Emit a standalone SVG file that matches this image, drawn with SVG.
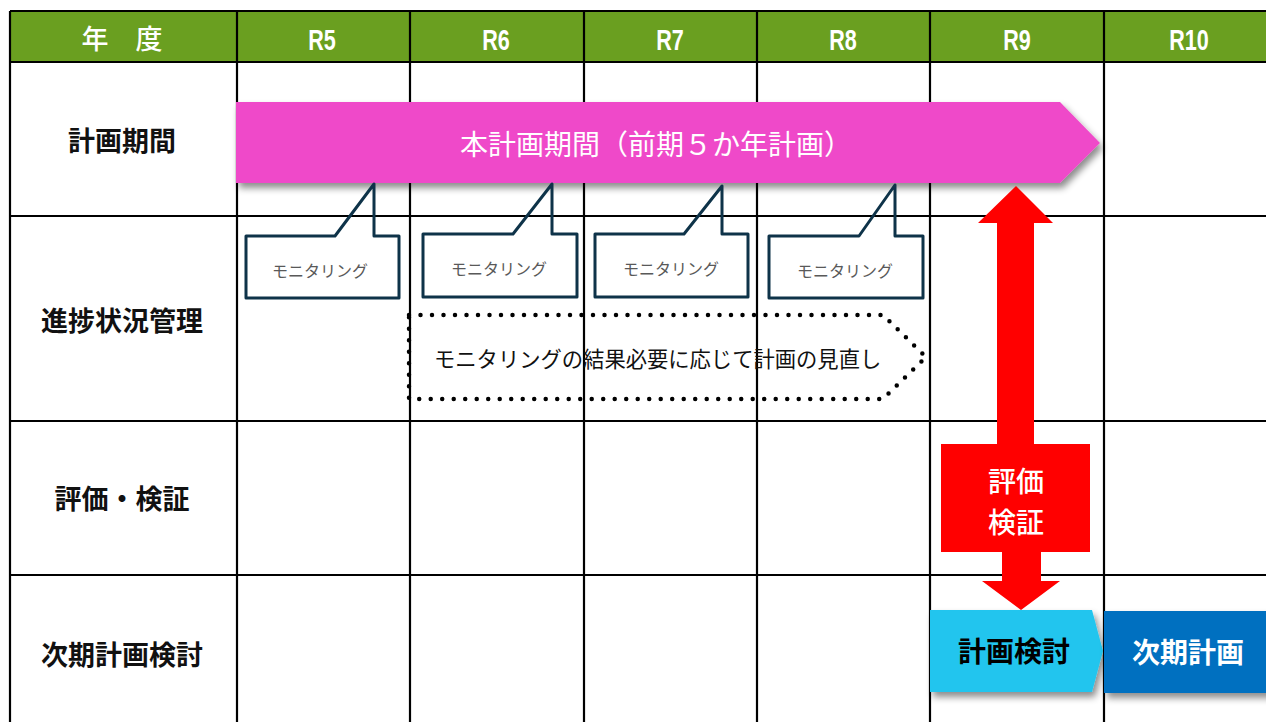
<svg xmlns="http://www.w3.org/2000/svg" width="1266" height="722" viewBox="0 0 1266 722">
<defs>
<filter id="sh" x="-5%" y="-20%" width="115%" height="150%">
<feDropShadow dx="3" dy="5" stdDeviation="3.5" flood-color="#000" flood-opacity="0.45"/>
</filter>
<style>
.grid{stroke:#000;stroke-width:2.2;fill:none}
.hdr{font-family:"Liberation Sans",Arial,sans-serif;font-weight:bold;font-size:30px;fill:#fff;text-anchor:middle}
.hdrj{font-family:"Noto Sans CJK JP",sans-serif;font-weight:500;font-size:27px;fill:#fff;text-anchor:middle;dominant-baseline:central}
.row{font-family:"Noto Sans CJK JP",sans-serif;font-weight:bold;font-size:27px;fill:#111;text-anchor:middle;dominant-baseline:central}
.call{fill:none;stroke:#0e3349;stroke-width:3;stroke-linejoin:round}
.callt{font-family:"Noto Sans CJK JP",sans-serif;font-size:16px;fill:#595959;text-anchor:middle;dominant-baseline:central}
.big{font-family:"Noto Sans CJK JP",sans-serif;font-size:28px;dominant-baseline:central}
</style>
</defs>
<rect width="1266" height="722" fill="#fff"/>
<g id="table">
<rect x="10" y="11" width="1270" height="51" fill="#6a9f20"/>
<path class="grid" d="M10,11 H1270 M10,62 H1270 M10,216 H1270 M10,421 H1270 M10,575 H1270 M10,11 V730 M237,11 V730 M410,11 V730 M584,11 V730 M757,11 V730 M930,11 V730 M1104,11 V730"/>
<text class="hdrj" x="122" y="37">年　度</text>
<g class="hdr">
<text transform="translate(322,50) scale(0.72,1)">R5</text>
<text transform="translate(496,50) scale(0.72,1)">R6</text>
<text transform="translate(670,50) scale(0.72,1)">R7</text>
<text transform="translate(843,50) scale(0.72,1)">R8</text>
<text transform="translate(1017,50) scale(0.72,1)">R9</text>
<text transform="translate(1189,50) scale(0.72,1)">R10</text>
</g>
<text class="row" x="122" y="139">計画期間</text>
<text class="row" x="122" y="319">進捗状況管理</text>
<text class="row" x="122" y="497">評価・検証</text>
<text class="row" x="122" y="653">次期計画検討</text>
</g>
<g id="plan-period">
<path d="M236,102 L1060,102 L1100,143 L1060,183 L236,183 Z" fill="#ef4ac9" filter="url(#sh)"/>
<text class="big" x="460" y="143" fill="#fff">本計画期間（前期５か年計画）</text>
</g>
<g id="monitor1">
<path class="call" d="M246,236 L335,236 L374,184 L374,236 L399,236 L399,298 L246,298 Z"/>
<text class="callt" x="320" y="270">モニタリング</text>
</g>
<g id="monitor2">
<path class="call" d="M423,234 L513,234 L552,184 L552,234 L577,234 L577,297 L423,297 Z"/>
<text class="callt" x="499" y="268">モニタリング</text>
</g>
<g id="monitor3">
<path class="call" d="M595,234 L684,234 L722,186 L722,234 L748,234 L748,297 L595,297 Z"/>
<text class="callt" x="671" y="268">モニタリング</text>
</g>
<g id="monitor4">
<path class="call" d="M769,236 L859,236 L895,185 L895,236 L923,236 L923,298 L769,298 Z"/>
<text class="callt" x="845" y="270">モニタリング</text>
</g>
<g id="review">
<path d="M409,315 L883,315 L926,357 L883,399 L409,399 Z" fill="none" stroke="#000" stroke-width="4.5" stroke-linecap="round" stroke-dasharray="0 11.5"/>
<text x="434" y="357" font-family="'Noto Sans CJK JP',sans-serif" font-size="21.3" fill="#111" dominant-baseline="central">モニタリングの結果必要に応じて計画の見直し</text>
</g>
<g id="connectors">
<g id="eval-arrow">
<polygon points="1016,186 1053,223 1034,223 1034,444 1090,444 1090,552 1041,552 1041,581 1060,581 1021,610 982,581 1002,581 1002,552 941,552 941,444 997,444 997,223 978,223" fill="#ff0000"/>
<text class="big" x="1016" y="480" fill="#fff" text-anchor="middle" font-weight="500">評価</text>
<text class="big" x="1016" y="521" fill="#fff" text-anchor="middle" font-weight="500">検証</text>
</g>
</g>
<g id="plan-review">
<path d="M930,610 L1092,610 L1103,651 L1092,692 L930,692 Z" fill="#22c5ee" filter="url(#sh)"/>
<text class="big" x="1014" y="650" fill="#000" text-anchor="middle" font-weight="bold">計画検討</text>
</g>
<g id="next-plan">
<rect x="1104" y="611" width="175" height="82" fill="#0070c0" filter="url(#sh)"/>
<text class="big" x="1188" y="651" fill="#fff" text-anchor="middle" font-weight="bold">次期計画</text>
</g>
</svg>
